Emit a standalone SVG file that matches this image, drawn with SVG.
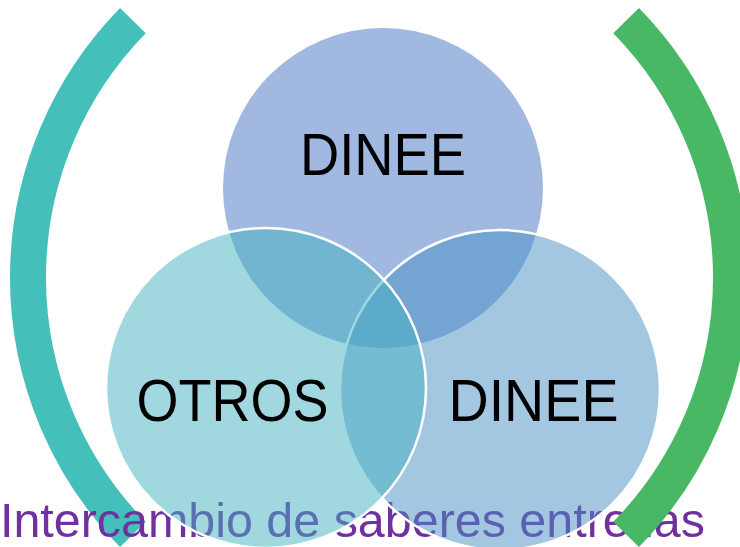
<svg xmlns="http://www.w3.org/2000/svg" width="740" height="547" viewBox="0 0 740 547">
  <style>
    .bracket { fill: none; stroke-width: 36; stroke-linecap: butt; }
    .circle { fill-opacity: 0.5; }
    .stroked { stroke: #ffffff; stroke-width: 2.5; }
    .label { font-family: "Liberation Sans", Arial, sans-serif; font-size: 59px; fill: #000000; text-anchor: middle; }
    .caption { font-family: "Liberation Sans", Arial, sans-serif; font-size: 48px; fill: #7030A0; }
  </style>
  <rect width="740" height="547" fill="#ffffff"/>
  <g id="bracket-left">
    <path class="bracket" stroke="#45BFB9" d="M132.9,20.6 A367,367 0 0 0 132.9,534.4"/>
  </g>
  <g id="caption">
    <text class="caption" x="0" y="537" textLength="705" lengthAdjust="spacingAndGlyphs">Intercambio de saberes entre las</text>
  </g>
  <g id="circle-top">
    <circle class="circle" cx="383" cy="188" r="160" fill="#4371C1"/>
  </g>
  <g id="circle-right">
    <circle class="circle stroked" cx="500" cy="390" r="160" fill="#478FC3"/>
  </g>
  <g id="circle-left">
    <circle class="circle stroked" cx="266" cy="388" r="160" fill="#43B1C1"/>
  </g>
  <g id="labels">
    <text id="label-top" class="label" x="383" y="175" textLength="166" lengthAdjust="spacingAndGlyphs">DINEE</text>
    <text id="label-left" class="label" x="232.5" y="421" textLength="192" lengthAdjust="spacingAndGlyphs">OTROS</text>
    <text id="label-right" class="label" x="533.5" y="421" textLength="170" lengthAdjust="spacingAndGlyphs">DINEE</text>
  </g>
  <g id="bracket-right">
    <path class="bracket" stroke="#48B865" d="M626.1,20.6 A367,367 0 0 1 626.1,534.4"/>
  </g>
  <g id="connectors"></g>
</svg>
